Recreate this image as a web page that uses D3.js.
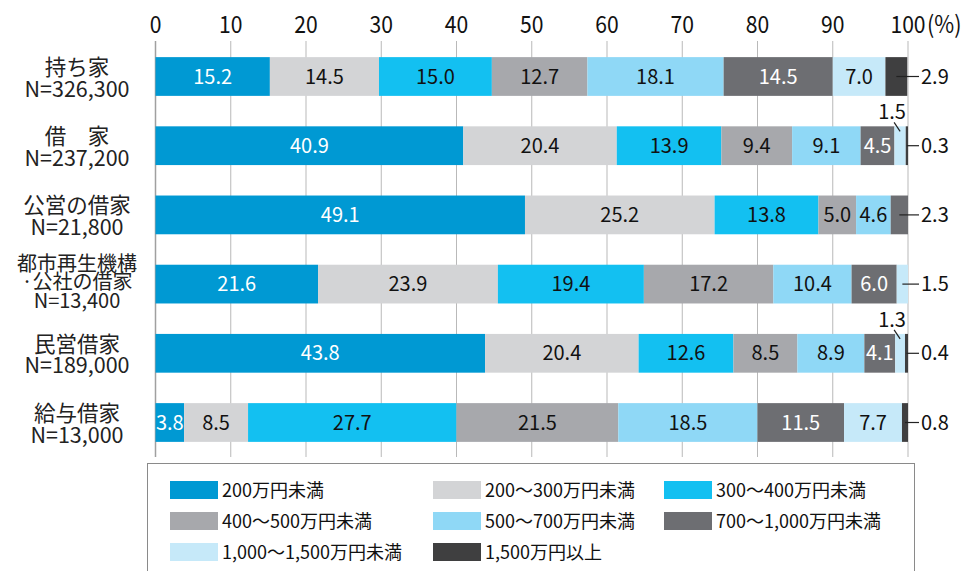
<!DOCTYPE html>
<html>
<head>
    <meta charset="utf-8">
    <title>世帯年収の分布</title>
    <script src="https://d3js.org/d3.v7.min.js"></script>
    <style>
        html, body {
            margin: 0;
            background: #fff;
        }
        text {
            font-family: "Noto Sans CJK JP", "Noto Sans", sans-serif;
        }
    </style>
</head>
<body>
    <svg id="svg"></svg>
    <script>
        const categories = ["持ち家", "借　家", "公営の借家", "都市再生機構・公社の借家", "民営借家", "給与借家"];
        const catLines = [["持ち家", "N=326,300"], ["借　家", "N=237,200"], ["公営の借家", "N=21,800"],
            ["都市再生機構", "·公社の借家", "N=13,400"], ["民営借家", "N=189,000"], ["給与借家", "N=13,000"]];

        const seriesNames = ["200万円未満", "200〜300万円未満", "300〜400万円未満", "400〜500万円未満",
            "500〜700万円未満", "700〜1,000万円未満", "1,000〜1,500万円未満", "1,500万円以上"];

        const under200 = [15.2, 40.9, 49.1, 21.6, 43.8, 3.8];
        const from200 = [14.5, 20.4, 25.2, 23.9, 20.4, 8.5];
        const from300 = [15.0, 13.9, 13.8, 19.4, 12.6, 27.7];
        const from400 = [12.7, 9.4, 5.0, 17.2, 8.5, 21.5];
        const from500 = [18.1, 9.1, 4.6, 10.4, 8.9, 18.5];
        const from700 = [14.5, 4.5, 2.3, 6.0, 4.1, 11.5];
        const from1000 = [7.0, 1.5, 0, 1.5, 1.3, 7.7];
        const over1500 = [2.9, 0.3, 0, 0, 0.4, 0.8];

        const tickValues = [0, 10, 20, 30, 40, 50, 60, 70, 80, 90, 100];

        const colors = ["#0099d3", "#d3d4d6", "#13c0f1", "#a7a8ac", "#8fd8f6", "#6d6e72", "#c6e9f9", "#3f3f40"];
        const whiteText = [true, false, false, false, false, true, false, false];

        const W = 973, H = 571;
        const svg = d3.select("#svg").attr("width", W).attr("height", H);

        const allSeries = [under200, from200, from300, from400, from500, from700, from1000, over1500];
        const rows = categories.map((c, i) => {
            const r = {cat: c};
            seriesNames.forEach((s, j) => r[s] = allSeries[j][i]);
            return r;
        });

        const x = d3.scaleLinear().domain([0, 100]).range([155.5, 908]);
        const y = d3.scaleBand().domain(categories).range([41.9, 457.1])
            .paddingInner(0.44).paddingOuter(0.22);

        // grid
        svg.append("g").selectAll("line")
            .data(tickValues)
            .join("line")
            .attr("x1", d => x(d)).attr("x2", d => x(d))
            .attr("y1", 41).attr("y2", 457)
            .attr("stroke", d => d === 0 ? "#a0a0a0" : "#b9b9b9")
            .attr("stroke-width", d => d === 0 ? 1.5 : 1);

        // tick labels (condensed)
        svg.append("g").selectAll("text")
            .data(tickValues)
            .join("text")
            .attr("transform", d => `translate(${x(d)},33) scale(0.88,1)`)
            .attr("text-anchor", "middle")
            .attr("font-size", 24)
            .attr("fill", "#111")
            .text(d => d);
        svg.append("text")
            .attr("transform", "translate(927,33) scale(0.9,1)")
            .attr("font-size", 24)
            .attr("fill", "#111")
            .text("(%)");

        const stack = d3.stack().keys(seriesNames);
        const stacked = stack(rows);

        const layers = svg.append("g").selectAll("g")
            .data(stacked)
            .join("g")
            .attr("fill", (d, i) => colors[i]);

        layers.selectAll("rect")
            .data(d => d.map(p => ({p, key: d.key, idx: d.index})))
            .join("rect")
            .attr("x", d => x(d.p[0]))
            .attr("y", d => y(d.p.data.cat))
            .attr("width", d => Math.max(0, x(d.p[1]) - x(d.p[0])))
            .attr("height", y.bandwidth());

        // labels
        const lab = svg.append("g");
        stacked.forEach((layer, si) => {
            layer.forEach((p, ri) => {
                const v = p[1] - p[0];
                if (v <= 0) return;
                const v0 = p.data[seriesNames[si]];
                const cx = (x(p[0]) + x(p[1])) / 2;
                const top = y(p.data.cat);
                const cy = top + y.bandwidth() / 2;
                const isLast = seriesNames.slice(si + 1).every(k => !(p.data[k] > 0));
                if (v0 >= 3) {
                    lab.append("text")
                        .attr("x", cx).attr("y", cy + 7)
                        .attr("text-anchor", "middle")
                        .attr("font-size", 20)
                        .attr("fill", whiteText[si] ? "#fff" : "#111")
                        .text(d3.format(".1f")(v0));
                } else if (isLast) {
                    lab.append("line")
                        .attr("x1", cx).attr("x2", 919)
                        .attr("y1", cy).attr("y2", cy)
                        .attr("stroke", "#222").attr("stroke-width", 1.2);
                    lab.append("text")
                        .attr("x", 921).attr("y", cy + 7)
                        .attr("font-size", 20)
                        .attr("fill", "#111")
                        .text(d3.format(".1f")(v0));
                } else {
                    lab.append("line")
                        .attr("x1", cx - 6).attr("x2", cx)
                        .attr("y1", top - 4).attr("y2", top + 5)
                        .attr("stroke", "#222").attr("stroke-width", 1.2);
                    lab.append("text")
                        .attr("x", cx - 8).attr("y", top - 7)
                        .attr("text-anchor", "middle")
                        .attr("font-size", 20)
                        .attr("fill", "#111")
                        .text(d3.format(".1f")(v0));
                }
            });
        });

        // category labels
        const catG = svg.append("g");
        catLines.forEach((lines, i) => {
            const cy = y(categories[i]) + y.bandwidth() / 2;
            const three = lines.length === 3;
            const base = three ? [cy - 13, cy + 4.5, cy + 24] : [cy - 1.5, cy + 20];
            lines.forEach((t, k) => {
                catG.append("text")
                    .attr("x", 77)
                    .attr("y", base[k])
                    .attr("text-anchor", "middle")
                    .attr("font-size", three ? 20 : 21.5)
                    .attr("fill", "#222")
                    .text(t);
            });
        });

        // legend
        const legend = svg.append("g");
        legend.append("rect")
            .attr("x", 147.5).attr("y", 463.5)
            .attr("width", 767).attr("height", 120)
            .attr("fill", "none")
            .attr("stroke", "#8a8a8a");
        const colX = [170, 433, 664];
        seriesNames.forEach((s, i) => {
            const cx = colX[i % 3];
            const cy = 490 + Math.floor(i / 3) * 31;
            legend.append("rect")
                .attr("x", cx).attr("y", cy - 9)
                .attr("width", 48).attr("height", 18)
                .attr("fill", colors[i]);
            legend.append("text")
                .attr("x", cx + 52).attr("y", cy + 6.5)
                .attr("font-size", 18)
                .attr("fill", "#111")
                .text(s);
        });
    </script>
</body>
</html>
